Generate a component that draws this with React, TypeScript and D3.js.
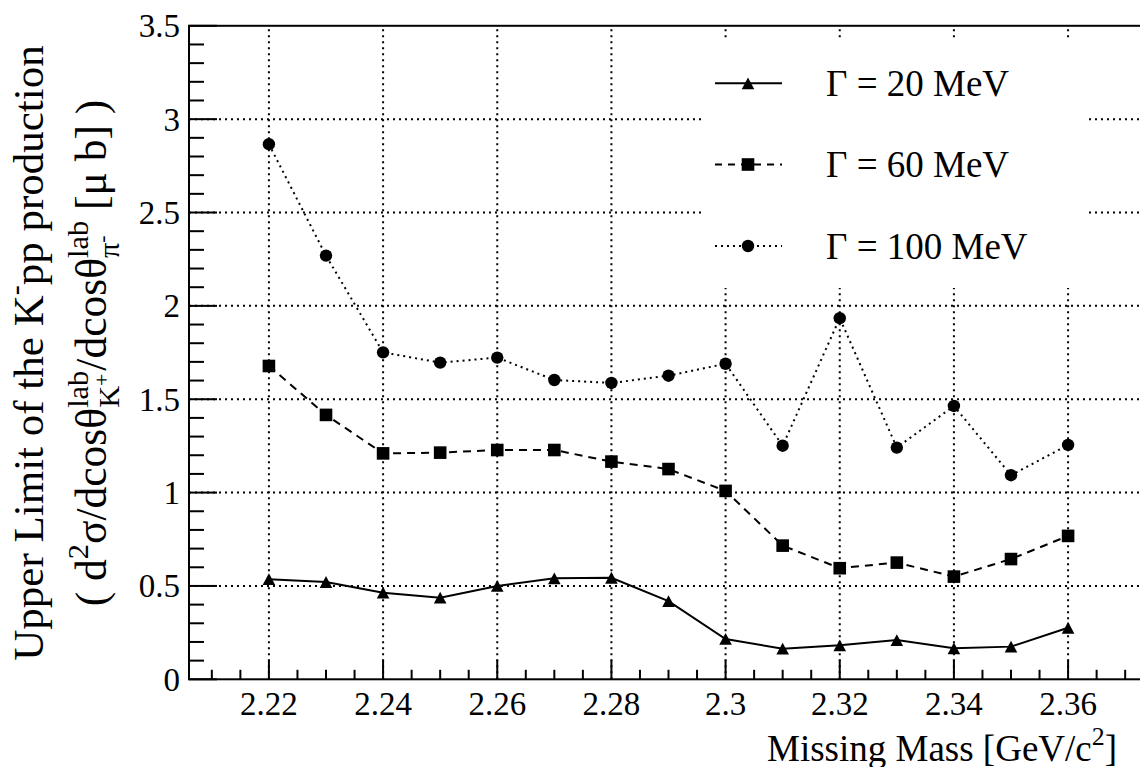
import React from 'react';
import * as d3 from 'd3';

// ---------- data ----------
const massValues = [2.22, 2.23, 2.24, 2.25, 2.26, 2.27, 2.28, 2.29, 2.3, 2.31, 2.32, 2.33, 2.34, 2.35, 2.36];
const gamma20 = [0.536, 0.521, 0.464, 0.437, 0.5, 0.541, 0.544, 0.419, 0.216, 0.164, 0.182, 0.21, 0.166, 0.175, 0.276];
const gamma60 = [1.678, 1.416, 1.21, 1.214, 1.228, 1.228, 1.166, 1.126, 1.009, 0.716, 0.595, 0.625, 0.55, 0.644, 0.768];
const gamma100 = [2.866, 2.269, 1.751, 1.696, 1.723, 1.603, 1.587, 1.626, 1.69, 1.251, 1.934, 1.241, 1.464, 1.093, 1.255];
const seriesLabels = ['Γ = 20 MeV', 'Γ = 60 MeV', 'Γ = 100 MeV'];
const xTickValues = [2.22, 2.24, 2.26, 2.28, 2.3, 2.32, 2.34, 2.36];
const xTickLabels = ['2.22', '2.24', '2.26', '2.28', '2.3', '2.32', '2.34', '2.36'];
const yTickValues = [0, 0.5, 1, 1.5, 2, 2.5, 3, 3.5];
const yTickLabels = ['0', '0.5', '1', '1.5', '2', '2.5', '3', '3.5'];

const FONT = '"Liberation Serif", "Times New Roman", serif';

// ---------- rich text helpers ----------
type Seg = { t: string; s: number; dy: number };
type Item = Seg | { stack: Seg[][] };
type Piece = { t: string; x: number; dy: number; s: number };

let ctx: CanvasRenderingContext2D | null = null;
function measure(t: string, size: number): number {
  if (!ctx) ctx = document.createElement('canvas').getContext('2d');
  if (!ctx) return t.length * size * 0.5;
  ctx.font = `${size}px "Liberation Serif"`;
  return ctx.measureText(t).width;
}
function layout(items: Item[], F: number) {
  const pieces: Piece[] = [];
  let x = 0;
  const runSegs = (segs: Seg[], x0: number) => {
    let xx = x0;
    segs.forEach((sg) => {
      pieces.push({ t: sg.t, x: xx, dy: sg.dy, s: sg.s });
      xx += measure(sg.t, sg.s * F);
    });
    return xx;
  };
  items.forEach((it) => {
    if ('stack' in it) {
      let mx = x;
      it.stack.forEach((segs) => {
        mx = Math.max(mx, runSegs(segs, x));
      });
      x = mx;
    } else {
      x = runSegs([it], x);
    }
  });
  return { pieces, width: x };
}

const RichText = ({ items, F, x, y, anchor, rotate }: { items: Item[]; F: number; x: number; y: number; anchor: 'middle' | 'end'; rotate?: boolean }) => {
  const { pieces, width } = layout(items, F);
  const x0 = anchor === 'middle' ? -width / 2 : -width;
  return (
    <g transform={`translate(${x},${y})${rotate ? ' rotate(-90)' : ''}`}>
      {pieces.map((p, i) => (
        <text key={i} x={x0 + p.x} y={p.dy * F} fontSize={p.s * F} fontFamily={FONT} fill="#000" style={{ whiteSpace: 'pre' }}>
          {p.t}
        </text>
      ))}
    </g>
  );
};

const SUP = -0.42;
const SUB = 0.3;

const yTitle1: Item[] = [
  { t: 'Upper Limit of the K', s: 1, dy: 0 },
  { t: '-', s: 0.7, dy: SUP },
  { t: 'pp production', s: 1, dy: 0 },
];
const yTitle2: Item[] = [
  { t: '( d', s: 1, dy: 0 },
  { t: '2', s: 0.7, dy: SUP },
  { t: 'σ/dcosθ', s: 1, dy: 0 },
  { stack: [[{ t: 'lab', s: 0.7, dy: SUP }], [{ t: 'K', s: 0.7, dy: SUB }, { t: '+', s: 0.5, dy: SUB - 0.22 }]] },
  { t: '/dcosθ', s: 1, dy: 0 },
  { stack: [[{ t: 'lab', s: 0.7, dy: SUP }], [{ t: 'π', s: 0.7, dy: SUB }, { t: '-', s: 0.5, dy: SUB - 0.22 }]] },
  { t: ' [μ b] )', s: 1, dy: 0 },
];
const xTitle: Item[] = [
  { t: 'Missing Mass [GeV/c', s: 1, dy: 0 },
  { t: '2', s: 0.7, dy: SUP },
  { t: ']', s: 1, dy: 0 },
];

// ---------- markers ----------
const Marker = ({ kind, cx, cy }: { kind: string; cx: number; cy: number }) => {
  if (kind === 'tri') {
    const w = 6.3, h = 5.9;
    return <path d={`M${cx - w},${cy + h}L${cx + w},${cy + h}L${cx},${cy - h}Z`} fill="#000" />;
  }
  if (kind === 'sq') return <rect x={cx - 6.3} y={cy - 6.3} width={12.6} height={12.6} fill="#000" />;
  return <circle cx={cx} cy={cy} r={6.2} fill="#000" />;
};

export default function App() {
  const W = 1140, H = 767;
  const x = d3.scaleLinear().domain([2.206, 2.374]).range([189, 1148]);
  const y = d3.scaleLinear().domain([0, 3.5]).range([679.3, 25.8]);
  const [x0, x1] = x.range();
  const [yb, yt] = y.range();

  const series = [
    { values: gamma20, marker: 'tri', dash: undefined as string | undefined },
    { values: gamma60, marker: 'sq', dash: '8,6' },
    { values: gamma100, marker: 'dot', dash: '2,4' },
  ];
  const line = d3
    .line<number>()
    .x((_, i) => x(massValues[i]))
    .y((d) => y(d));

  const xMinor = d3.range(2.21, 2.3741, 0.005).filter((v) => Math.abs(Math.round(v / 0.02) * 0.02 - v) > 1e-6);
  const yMinor = d3.range(0, 3.5001, 0.1).filter((v) => Math.abs(Math.round(v / 0.5) * 0.5 - v) > 1e-6);

  const legendRows = [83.3, 164.5, 246];

  return (
    <svg width={W} height={H} style={{ position: 'absolute', left: 0, top: 0, background: '#fff' }}>
      <rect x={0} y={0} width={W} height={H} fill="#fff" />
      {/* grid */}
      <g stroke="#000" strokeWidth={2} strokeDasharray="2,4">
        {xTickValues.map((v) => (
          <line key={'gx' + v} x1={x(v)} x2={x(v)} y1={yb} y2={yt} />
        ))}
        {yTickValues.slice(1, -1).map((v) => (
          <line key={'gy' + v} x1={x0} x2={x1} y1={y(v)} y2={y(v)} />
        ))}
      </g>
      {/* legend background */}
      <rect x={701} y={41} width={384} height={247} fill="#fff" />
      {/* series */}
      {series.map((s, si) => (
        <g key={'s' + si}>
          <path d={line(s.values) || ''} fill="none" stroke="#000" strokeWidth={2} strokeDasharray={s.dash} />
          {s.values.map((v, i) => (
            <Marker key={i} kind={s.marker} cx={x(massValues[i])} cy={y(v)} />
          ))}
        </g>
      ))}
      {/* legend */}
      {series.map((s, si) => (
        <g key={'l' + si}>
          <line x1={715} x2={782} y1={legendRows[si]} y2={legendRows[si]} stroke="#000" strokeWidth={2} strokeDasharray={s.dash ? (si === 1 ? '7,6' : '2,4') : undefined} />
          <Marker kind={s.marker} cx={748} cy={legendRows[si]} />
          <text x={826} y={legendRows[si] + 12.5} fontSize={37} fontFamily={FONT} fill="#000">
            {seriesLabels[si]}
          </text>
        </g>
      ))}
      {/* frame */}
      <rect x={x0} y={yt} width={x1 - x0} height={yb - yt} fill="none" stroke="#000" strokeWidth={2} />
      {/* axis ticks */}
      <g stroke="#000" strokeWidth={2}>
        {xTickValues.map((v) => (
          <line key={'tx' + v} x1={x(v)} x2={x(v)} y1={yb} y2={yb - 19.5} />
        ))}
        {xMinor.map((v) => (
          <line key={'mx' + v} x1={x(v)} x2={x(v)} y1={yb} y2={yb - 9.5} />
        ))}
        {yTickValues.map((v) => (
          <line key={'ty' + v} x1={x0} x2={x0 + 28} y1={y(v)} y2={y(v)} />
        ))}
        {yMinor.map((v) => (
          <line key={'my' + v} x1={x0} x2={x0 + 15} y1={y(v)} y2={y(v)} />
        ))}
      </g>
      {/* tick labels */}
      {xTickValues.map((v, i) => (
        <text key={'lx' + v} x={x(v)} y={715} textAnchor="middle" fontSize={33} fontFamily={FONT} fill="#000">
          {xTickLabels[i]}
        </text>
      ))}
      {yTickValues.map((v, i) => (
        <text key={'ly' + v} x={180} y={y(v) + 11.5} textAnchor="end" fontSize={33} fontFamily={FONT} fill="#000">
          {yTickLabels[i]}
        </text>
      ))}
      {/* axis titles */}
      <RichText items={xTitle} F={37} x={1117} y={761} anchor="end" />
      <RichText items={yTitle1} F={43} x={43} y={353} anchor="middle" rotate />
      <RichText items={yTitle2} F={43.5} x={106} y={353} anchor="middle" rotate />
    </svg>
  );
}
